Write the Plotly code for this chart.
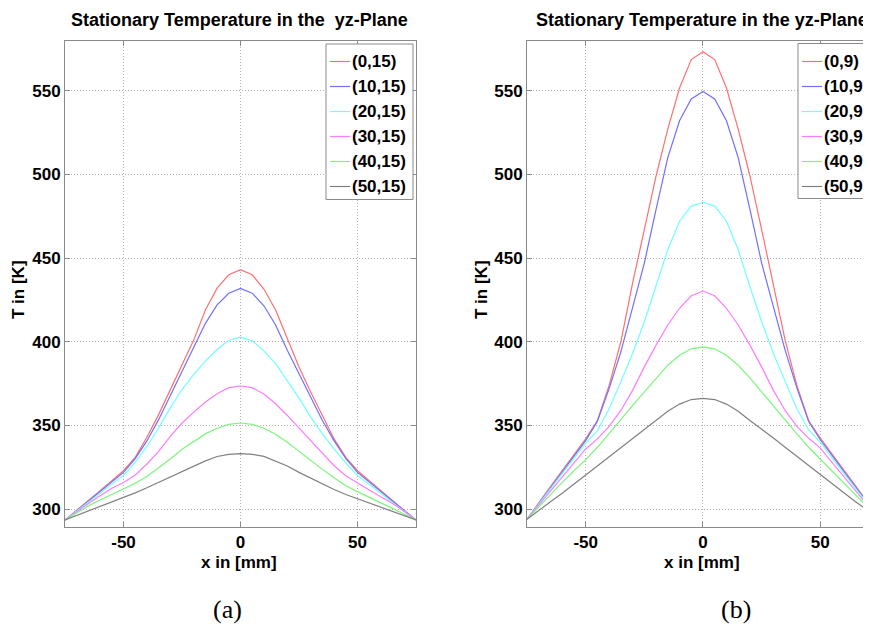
import plotly.graph_objects as go

# ---------------- data ----------------
x_mm = [-75, -70, -65, -60, -55, -50, -45, -40, -35, -30, -25, -20, -15, -10, -5, 0,
        5, 10, 15, 20, 25, 30, 35, 40, 45, 50, 55, 60, 65, 70, 75]

names_a = ["(0,15)", "(10,15)", "(20,15)", "(30,15)", "(40,15)", "(50,15)"]
names_b = ["(0,9)", "(10,9)", "(20,9)", "(30,9)", "(40,9)", "(50,9)"]

# Panel (a): temperatures in K
a_0_15 = [293.6, 299.3, 305.0, 311.0, 317.0, 323.0, 331.0, 343.0, 356.5, 371.0, 385.5, 401.0, 419.0, 432.0, 440.0, 443.0,
          440.0, 431.5, 419.0, 401.5, 385.0, 370.0, 355.5, 342.0, 331.0, 323.0, 317.0, 311.0, 305.0, 299.3, 293.6]
a_10_15 = [293.6, 299.0, 304.8, 310.5, 316.0, 322.0, 330.2, 340.8, 353.5, 368.0, 381.5, 396.0, 411.0, 422.0, 429.0, 431.8,
           429.0, 421.5, 410.0, 395.0, 381.0, 367.0, 353.0, 340.8, 330.4, 322.0, 316.0, 310.5, 304.8, 299.0, 293.6]
a_20_15 = [293.6, 298.8, 304.0, 309.5, 315.0, 320.2, 328.2, 337.5, 348.5, 360.5, 371.5, 380.5, 388.5, 395.4, 400.9, 402.8,
           400.6, 394.6, 387.0, 377.0, 366.5, 355.0, 345.0, 336.0, 327.6, 320.2, 315.0, 309.5, 304.0, 298.8, 293.6]
a_30_15 = [293.6, 298.7, 303.5, 308.0, 312.5, 316.0, 320.5, 327.0, 334.5, 343.5, 351.5, 358.0, 364.0, 369.0, 372.6, 373.6,
           372.6, 368.8, 363.0, 356.0, 348.5, 340.5, 333.0, 326.0, 320.0, 315.5, 311.5, 307.5, 303.5, 298.7, 293.6]
a_40_15 = [293.6, 298.0, 302.0, 305.5, 309.0, 312.0, 315.5, 319.5, 324.5, 330.0, 335.8, 340.5, 345.0, 348.4, 350.7, 351.5,
           350.7, 348.4, 344.8, 340.0, 334.5, 329.0, 323.8, 318.8, 314.0, 310.5, 307.0, 303.8, 300.5, 297.2, 293.6]
a_50_15 = [293.6, 296.3, 299.0, 301.7, 304.3, 306.8, 309.8, 312.8, 316.0, 319.2, 322.5, 325.8, 328.9, 331.5, 332.8, 333.2,
           332.8, 331.6, 328.8, 325.8, 322.0, 318.5, 315.0, 311.8, 308.8, 306.2, 303.6, 301.2, 298.8, 296.2, 293.6]

# Panel (b): temperatures in K
b_0_9 = [294.0, 304.0, 313.5, 323.0, 332.5, 342.0, 353.0, 374.0, 400.0, 435.0, 467.0, 499.0, 527.0, 551.5, 568.5, 573.2,
         568.5, 551.5, 527.0, 499.0, 467.0, 435.0, 401.0, 374.0, 353.0, 342.5, 333.0, 323.5, 314.0, 304.5, 295.0]
b_10_9 = [294.0, 303.5, 313.0, 322.5, 332.0, 341.0, 352.5, 372.0, 394.0, 421.0, 447.0, 479.0, 510.0, 532.0, 545.0, 549.4,
          545.0, 532.0, 510.0, 479.0, 447.0, 421.0, 395.0, 372.5, 352.5, 341.5, 332.0, 323.0, 313.5, 304.0, 294.5]
b_20_9 = [294.0, 303.0, 312.0, 321.0, 330.0, 339.5, 347.0, 360.0, 376.0, 393.0, 412.0, 433.0, 455.0, 472.0, 481.0, 483.3,
          481.0, 472.0, 455.0, 433.0, 412.0, 393.0, 376.0, 360.0, 347.5, 340.0, 330.5, 321.5, 312.5, 303.5, 294.5]
b_30_9 = [294.0, 302.5, 310.5, 319.0, 327.5, 336.0, 342.0, 349.5, 359.0, 371.0, 385.0, 398.0, 410.0, 420.0, 427.5, 430.3,
          427.5, 420.0, 410.0, 398.0, 385.0, 371.0, 359.0, 349.5, 342.5, 336.5, 328.0, 319.5, 311.0, 302.5, 294.0]
b_40_9 = [294.0, 301.5, 309.0, 316.0, 323.0, 329.5, 337.0, 345.0, 353.5, 362.0, 370.0, 378.5, 386.0, 392.0, 395.8, 397.0,
          395.8, 392.0, 386.0, 378.5, 370.0, 362.0, 353.5, 345.0, 337.0, 330.0, 323.0, 316.0, 309.0, 301.5, 294.0]
b_50_9 = [294.0, 299.5, 304.5, 309.5, 315.0, 320.5, 326.0, 331.5, 337.0, 342.5, 348.0, 353.0, 358.5, 362.8, 365.5, 366.2,
          365.5, 362.8, 358.5, 353.0, 348.0, 342.5, 337.0, 331.5, 326.0, 321.0, 315.5, 310.0, 304.5, 299.5, 294.0]

series_a = [a_0_15, a_10_15, a_20_15, a_30_15, a_40_15, a_50_15]
series_b = [b_0_9, b_10_9, b_20_9, b_30_9, b_40_9, b_50_9]

colors = ["#ff7070", "#7070ff", "#70ffff", "#ff7cff", "#7cf57c", "#808080"]

x_ticks = [-50, 0, 50]
x_tick_labels = ["-50", "0", "50"]
y_ticks = [300, 350, 400, 450, 500, 550]
y_tick_labels = ["300", "350", "400", "450", "500", "550"]

title_text_a = "Stationary Temperature in the  yz-Plane"
title_text_b = "Stationary Temperature in the yz-Plane"

# ---------------- figure ----------------
# the page body adds an 8 px margin, so the figure is 8 px smaller
OFF = 8
W, H = 871 - OFF, 626 - OFF
FONT = "Liberation Sans, Arial, Helvetica, sans-serif"
SERIF = "Liberation Serif, Times New Roman, serif"
GRAY = "#8a8a8a"


def fx(p):
    return (p - OFF) / W


def fy(p):
    return 1 - (p - OFF) / H


fig = go.Figure()

for name, ys, c in zip(names_a, series_a, colors):
    fig.add_trace(go.Scatter(x=x_mm, y=ys, name=name, mode="lines",
                             line=dict(color=c, width=1.2),
                             xaxis="x", yaxis="y", showlegend=False))
for name, ys, c in zip(names_b, series_b, colors):
    fig.add_trace(go.Scatter(x=x_mm, y=ys, name=name, mode="lines",
                             line=dict(color=c, width=1.2),
                             xaxis="x2", yaxis="y2", showlegend=False))

axis_common = dict(
    showline=True, linecolor=GRAY, linewidth=1,
    ticks="inside", ticklen=5, tickcolor=GRAY,
    showgrid=True, gridcolor="#b4b4b4", griddash="1px,2px", gridwidth=1,
    zeroline=False,
    tickfont=dict(family=FONT, size=17, color="black", weight="bold"),
)

ydom = [fy(527), fy(41)]
yrange = [289.4, 579.6]

fig.update_layout(
    width=W, height=H,
    margin=dict(l=0, r=0, t=0, b=0, autoexpand=False),
    paper_bgcolor="white", plot_bgcolor="white",
    showlegend=False,
    xaxis=dict(domain=[fx(65), fx(416)], range=[-75, 75], tickvals=x_ticks,
               ticktext=x_tick_labels, mirror="ticks", anchor="y", **axis_common),
    yaxis=dict(domain=ydom, range=yrange, tickvals=y_ticks, ticktext=y_tick_labels,
               mirror="ticks", anchor="x", **axis_common),
    xaxis2=dict(domain=[fx(527), 1.0], range=[-75, 71.6], tickvals=x_ticks,
                ticktext=x_tick_labels, mirror="ticks", anchor="y2", **axis_common),
    yaxis2=dict(domain=ydom, range=yrange, tickvals=y_ticks, ticktext=y_tick_labels,
                mirror=False, anchor="x2", **axis_common),
)


def ann(text, x, y, size, bold=True, angle=0, family=FONT, xanchor="center"):
    fig.add_annotation(text=text, x=fx(x), y=fy(y), xref="paper", yref="paper",
                       xanchor=xanchor, yanchor="middle", showarrow=False,
                       textangle=angle,
                       font=dict(family=family, size=size, color="black",
                                 weight="bold" if bold else "normal"))


ann(title_text_a, 239, 20, 18)
ann(title_text_b, 702, 20, 18)
ann("x in [mm]", 239, 562, 17)
ann("x in [mm]", 702, 562, 17)
ann("T in [K]", 18, 290, 17, angle=-90)
ann("T in [K]", 481, 290, 17, angle=-90)
ann("(a)", 227, 609, 26, bold=False, family=SERIF)
ann("(b)", 736, 609, 26, bold=False, family=SERIF)

# ---------------- legends (boxed, inside each panel) ----------------
row_y = [61.5, 86.5, 111.5, 136.5, 161.5, 186.5]


def legend_box(names, left, right, top, bottom):
    fig.add_shape(type="rect", xref="paper", yref="paper",
                  x0=fx(left), x1=fx(right), y0=fy(bottom), y1=fy(top),
                  line=dict(color=GRAY, width=1), fillcolor="white", layer="above")
    for name, c, ry in zip(names, colors, row_y):
        fig.add_shape(type="line", xref="paper", yref="paper",
                      x0=fx(left + 4), x1=fx(left + 24), y0=fy(ry), y1=fy(ry),
                      line=dict(color=c, width=1.2), layer="above")
        ann(name, left + 24, ry, 17, xanchor="left")


legend_box(names_a, 326, 413, 44, 199.5)
legend_box(names_b, 798, 920, 43.5, 198.5)

fig.write_html("out.html")
